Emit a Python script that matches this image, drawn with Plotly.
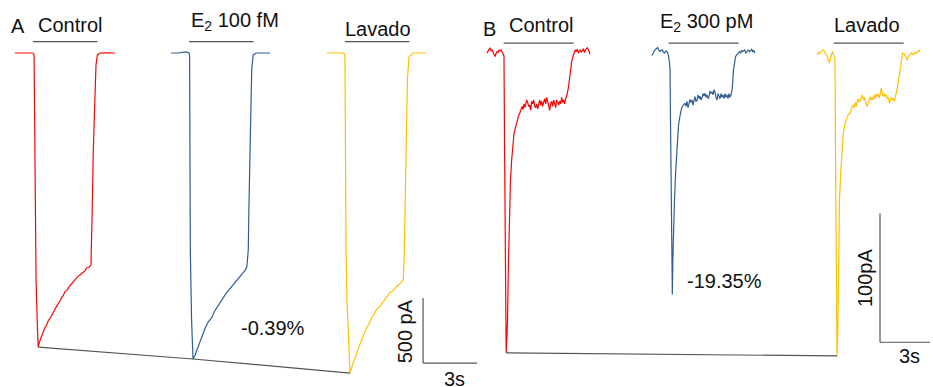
import plotly.graph_objects as go

# ---------------- Panel A: E2 100 fM ----------------
# time (s) from sweep start, current (pA)
a_ctrl_t = [0.0, 0.30, 0.60, 1.00, 1.06, 1.08, 1.11, 1.17, 1.25, 1.29,
            1.36, 1.44, 1.52, 1.60, 1.67, 1.75, 1.85, 1.94, 2.03, 2.12,
            2.22, 2.31, 2.40, 2.50, 2.59, 2.68, 2.78, 2.90, 3.02, 3.15,
            3.27, 3.38, 3.50, 3.63, 3.76, 3.89, 4.00, 4.11, 4.22,
            4.26, 4.29, 4.35, 4.44, 4.50, 4.58, 4.72, 5.00, 5.30, 5.56]
a_ctrl_i = [0, 0, 0, 0, -15, -515, -1054, -1746, -2131, -2262,
            -2222, -2196, -2160, -2138, -2108, -2098, -2058, -2044, -2015, -1998,
            -1970, -1952, -1925, -1906, -1880, -1866, -1835, -1822, -1796, -1774,
            -1757, -1738, -1718, -1706, -1688, -1674, -1650, -1648, -1631,
            -1477, -1208, -746, -362, -92, -15, 0, 2, 0, 0]

a_e2_t = [0.0, 0.40, 0.83, 1.00, 1.03, 1.04, 1.07, 1.14, 1.22,
          1.33, 1.47, 1.61, 1.75, 1.89, 2.07, 2.26, 2.40, 2.54, 2.72,
          2.91, 3.10, 3.28, 3.46, 3.65, 3.83, 4.02, 4.12, 4.21,
          4.29, 4.32, 4.35, 4.39, 4.43, 4.48, 4.56, 4.72, 5.10, 5.50]
a_e2_i = [0, 0, 8, 0, -23, -1038, -1515, -2054, -2354,
          -2325, -2270, -2212, -2160, -2118, -2068, -2036, -1990, -1958, -1915,
          -1880, -1842, -1812, -1776, -1750, -1722, -1690, -1670, -1646,
          -1515, -1231, -977, -669, -438, -131, -15, 0, 0, 0]

a_wash_t = [0.0, 0.50, 0.94, 1.00, 1.01, 1.06, 1.11, 1.19, 1.28,
            1.37, 1.46, 1.55, 1.65, 1.79, 1.93, 2.07, 2.21, 2.35, 2.48,
            2.62, 2.76, 2.95, 3.13, 3.31, 3.50, 3.69, 3.87, 4.05, 4.24,
            4.29, 4.32, 4.35, 4.39, 4.43, 4.47, 4.56, 4.78, 5.20, 5.52]
a_wash_i = [0, 0, 0, -23, -769, -1477, -1900, -2246, -2462,
            -2420, -2384, -2340, -2306, -2250, -2204, -2160, -2112, -2080, -2036,
            -2010, -1972, -1948, -1910, -1882, -1842, -1828, -1796, -1776, -1746,
            -1592, -1385, -1208, -900, -554, -208, -31, 0, 0, 0]

a_offsets = [0.0, 8.67, 17.33]          # sweep start times on the common axis (s)
a_app = [1.0, 4.58]                      # drug application bar (s, per sweep)
a_labels = ["Control", "E<sub>2</sub> 100 fM", "Lavado"]
a_change = "-0.39%"

# ---------------- Panel B: E2 300 pM ----------------
b_ctrl_t = [0.0, 0.06, 0.12, 0.18, 0.24, 0.30, 0.36, 0.42, 0.48, 0.54, 0.60, 0.66, 0.72,
            0.78, 0.84, 0.90, 0.96, 1.02, 1.05, 1.08, 1.11, 1.15,
            1.20, 1.23, 1.29, 1.35, 1.41, 1.48, 1.56, 1.62, 1.68, 1.76, 1.83, 1.90, 1.98,
            2.04, 2.10, 2.16, 2.22, 2.28, 2.34,
            2.38, 2.44, 2.50, 2.56, 2.62, 2.68, 2.74, 2.80, 2.86, 2.92, 2.98, 3.04, 3.10,
            3.16, 3.22, 3.28, 3.34, 3.40, 3.46, 3.52, 3.58, 3.64, 3.70, 3.76, 3.82, 3.88,
            3.94, 4.00, 4.06, 4.12, 4.18, 4.24, 4.30, 4.36, 4.42, 4.48, 4.54, 4.60, 4.66,
            4.72, 4.80, 4.88, 4.98, 5.08, 5.18, 5.24, 5.30, 5.36, 5.42, 5.48, 5.54, 5.60,
            5.66, 5.72, 5.78, 5.84, 5.90, 5.96, 6.02, 6.08, 6.14, 6.18]
b_ctrl_i = [-1.8, 0.5, 1.2, 2.1, 0.2, 0.8, -1.5, -2.8, -4.4, -2.0, -0.5, -1.2, 0.6,
            0.2, 0.8, -0.6, -1.8, -3.9, -69, -154, -208.5, -234,
            -220, -208.5, -162, -119, -100, -84.5, -70.5, -64, -61, -56, -53.5, -50, -48,
            -46, -43, -45.5, -41, -44, -39,
            -38, -40, -43, -42, -46, -39, -41, -38, -43, -44, -41, -45, -40,
            -38, -42, -39, -43, -40, -37, -41, -36, -39, -42, -46, -41, -39,
            -43, -38, -41, -44, -38, -40, -42, -39, -41, -36, -40, -38, -41,
            -37, -34.1, -28.9, -16, -8.3, -3.1, -1.0, 0.8, -0.5, 1.5, -1.8, 0.5, 1.0,
            -0.8, 0, 1.8, -1.2, 0.6, 1.6, 2.5, 1.2, -1.0, -2.6]

b_e2_t = [0.0, 0.06, 0.12, 0.18, 0.24, 0.30, 0.34, 0.40, 0.48, 0.54, 0.62, 0.68, 0.74,
          0.80, 0.88, 0.94, 0.98, 1.04, 1.08, 1.11, 1.14, 1.18, 1.22,
          1.25, 1.29, 1.35, 1.41, 1.48, 1.53, 1.59, 1.68, 1.78, 1.88,
          1.98, 2.04, 2.10, 2.16, 2.22, 2.28, 2.34, 2.40, 2.46, 2.52, 2.58, 2.64, 2.70,
          2.76, 2.82, 2.88, 2.94, 3.00, 3.06, 3.12, 3.18, 3.24, 3.30, 3.36, 3.42, 3.48,
          3.54, 3.60, 3.66, 3.72, 3.78, 3.84, 3.90, 3.96, 4.02, 4.08, 4.14, 4.20, 4.26,
          4.32, 4.38, 4.44, 4.50, 4.56, 4.62, 4.68, 4.74,
          4.82, 4.88, 4.94, 5.01, 5.08, 5.14, 5.20, 5.26, 5.32, 5.38, 5.44, 5.50, 5.56,
          5.62, 5.68, 5.74, 5.80, 5.86, 5.92, 5.98, 6.04, 6.10, 6.18]
b_e2_i = [-3.6, -1.5, -0.5, 0.8, 1.5, 2.0, 2.6, 0.8, -0.5, 0.5, 0.8, -0.8, -1.8,
          -0.5, 0, -1.5, -3.1, -8.5, -13.2, -53.5, -115.5, -162, -188.7,
          -162, -138.8, -115.5, -96.1, -83, -69, -57.4, -50.4, -44.2, -42,
          -40.5, -43, -39, -44, -41, -37.5, -40, -38, -42, -37, -35.4, -39, -38.5,
          -34, -37, -35, -38, -36.7, -33, -35, -32.8, -36, -34, -37, -35.4, -31,
          -33, -31.6, -34, -30, -32, -36, -38, -33, -35, -37, -33, -36, -34,
          -37, -33, -36, -34, -37, -33, -36, -34,
          -28.9, -16, -8.3, -4.5, -3.1, -2.2, -1.8, -0.6, -1.8, 0.5, -0.4, 0, 0.8,
          -1.5, -1.0, 0.4, 0.6, -0.6, 0.8, 1.2, -0.5, 0.4, -1.8]

b_wash_t = [0.0, 0.06, 0.12, 0.18, 0.24, 0.30, 0.34, 0.40, 0.48, 0.54, 0.62, 0.68, 0.74,
            0.79, 0.84, 0.90, 0.94, 0.98, 1.02, 1.08, 1.11, 1.14, 1.17, 1.20,
            1.25, 1.28, 1.31, 1.35, 1.42, 1.50, 1.58, 1.68, 1.78, 1.88, 1.98, 2.08,
            2.18, 2.24, 2.30, 2.36, 2.42, 2.48, 2.54, 2.60, 2.66, 2.72, 2.78, 2.84, 2.90,
            2.96, 3.02, 3.08, 3.14, 3.20, 3.26, 3.32, 3.38, 3.44, 3.50, 3.56, 3.62, 3.68,
            3.74, 3.80, 3.86, 3.92, 3.98, 4.04, 4.10, 4.16, 4.22, 4.28, 4.34, 4.40, 4.46,
            4.52, 4.58, 4.64, 4.70, 4.76,
            4.82, 4.94, 5.02, 5.14, 5.22, 5.28, 5.35, 5.42, 5.48, 5.54, 5.60, 5.66, 5.72,
            5.78, 5.84, 5.90, 5.96, 6.02, 6.08, 6.13, 6.18]
b_wash_i = [-3.1, -2.2, -1.0, -1.8, -0.5, 0.2, 0.8, 0.5, -1.0, -2.5, -4.4, -7.0, -9.5,
            -6.5, -3.1, -1.5, -0.5, -2.0, -4.4, -7, -76.7, -154, -208.5, -236.4,
            -216.3, -185.3, -146.5, -115.5, -94.6, -76.7, -63.6, -56.6, -51.9, -49, -48.3, -44,
            -41.9, -44, -40, -43, -39, -37, -40, -37.5, -35, -34.1, -37.5, -36, -39,
            -41, -43.2, -40, -37, -35.4, -38, -36, -38, -34, -36.7, -33, -35, -34.1,
            -36.5, -32, -28.9, -33, -35.4, -33, -35.4, -34, -37, -36, -40.5, -38, -36,
            -38, -36.7, -39, -35.4, -33,
            -28.9, -18.6, -10.9, -1.8, -2.4, -3.1, -5.0, -7, -4.5, -3.1, -2.2, -1.5, -2.6,
            -3.1, -1.8, -1.2, -2.0, -1.0, 0.2, -0.4, 0.8]

b_offsets = [0.0, 9.9, 19.8]
b_app = [1.0, 5.2]
b_labels = ["Control", "E<sub>2</sub> 300 pM", "Lavado"]
b_change = "-19.35%"

colors = ["#FF0000", "#2F5F94", "#FFC000"]
FONT = "Liberation Sans, Arial, sans-serif"
GREY = "#555555"

fig = go.Figure()

def add_panel(sweeps, offsets, xa, ya):
    peaks_x, peaks_y = [], []
    for (t, i), off, col in zip(sweeps, offsets, colors):
        fig.add_trace(go.Scatter(x=[off + v for v in t], y=i, mode="lines",
                                 line=dict(color=col, width=1.2),
                                 xaxis=xa, yaxis=ya, hoverinfo="skip"))
        k = i.index(min(i))
        peaks_x.append(off + t[k])
        peaks_y.append(i[k])
    return peaks_x, peaks_y

# Panel A traces and the line joining their peaks
pax, pay = add_panel([(a_ctrl_t, a_ctrl_i), (a_e2_t, a_e2_i), (a_wash_t, a_wash_i)],
                     a_offsets, "x", "y")
fig.add_trace(go.Scatter(x=pax, y=pay, mode="lines", line=dict(color=GREY, width=1.2),
                         xaxis="x", yaxis="y", hoverinfo="skip"))

# Panel B traces: the line joins control and wash-out peaks
pbx, pby = add_panel([(b_ctrl_t, b_ctrl_i), (b_e2_t, b_e2_i), (b_wash_t, b_wash_i)],
                     b_offsets, "x2", "y2")
fig.add_trace(go.Scatter(x=[pbx[0], pbx[2]], y=[pby[0], pby[2]], mode="lines",
                         line=dict(color=GREY, width=1.2),
                         xaxis="x2", yaxis="y2", hoverinfo="skip"))

shapes, annos = [], []

def text(x, y, s, xr, yr, angle=0, size=20):
    annos.append(dict(x=x, y=y, xref=xr, yref=yr, text=s, showarrow=False,
                      textangle=angle, xanchor="center", yanchor="middle",
                      font=dict(family=FONT, size=size, color="#111111")))

def seg(x0, y0, x1, y1, xr, yr):
    shapes.append(dict(type="line", x0=x0, y0=y0, x1=x1, y1=y1, xref=xr, yref=yr,
                       line=dict(color=GREY, width=1.2)))

# application bars and condition labels
a_label_x = [3.03, 3.55, 2.84]
a_label_y = [215, 241, 181]
for off, lab, lx, ly in zip(a_offsets, a_labels, a_label_x, a_label_y):
    seg(off + a_app[0], 87, off + a_app[1], 87, "x", "y")
    text(off + lx, ly, lab, "x", "y")

b_label_x = [3.21, 3.28, 3.0]
b_label_y = [20.5, 22.1, 20.2]
for off, lab, lx, ly in zip(b_offsets, b_labels, b_label_x, b_label_y):
    seg(off + b_app[0], 6, off + b_app[1], 6, "x2", "y2")
    text(off + lx, ly, lab, "x2", "y2")

# panel letters and percentage change
text(0.14, 204, "A", "x", "y")
text(0.12, 17.4, "B", "x2", "y2")
text(14.31, -2119, a_change, "x", "y")
text(14.22, -178.3, b_change, "x2", "y2")

# scale bars: A = 500 pA / 3 s, B = 100 pA / 3 s
seg(22.67, -1885, 22.67, -2385, "x", "y")
seg(22.67, -2385, 25.67, -2385, "x", "y")
text(21.69, -2138, "500 pA", "x", "y", angle=-90)
text(24.44, -2508, "3s", "x", "y")

seg(23.58, -125.8, 23.58, -225.8, "x2", "y2")
seg(23.58, -225.8, 26.58, -225.8, "x2", "y2")
text(22.68, -176, "100pA", "x2", "y2", angle=-90)
text(25.32, -236.4, "3s", "x2", "y2")

ax = dict(visible=False, showgrid=False, zeroline=False, fixedrange=True)
fig.update_layout(
    width=933, height=387, margin=dict(l=0, r=0, t=0, b=0),
    paper_bgcolor="white", plot_bgcolor="white", showlegend=False,
    xaxis=dict(ax, domain=[0, 1], range=[-0.833, 51.0]),
    yaxis=dict(ax, domain=[0, 1], range=[-2569.2, 407.7]),
    xaxis2=dict(ax, domain=[0, 1], range=[-29.22, 26.76], overlaying="x"),
    yaxis2=dict(ax, domain=[0, 1], range=[-260.5, 39.5], overlaying="y", anchor="x2"),
    shapes=shapes, annotations=annos,
)

fig.write_html("out.html")
